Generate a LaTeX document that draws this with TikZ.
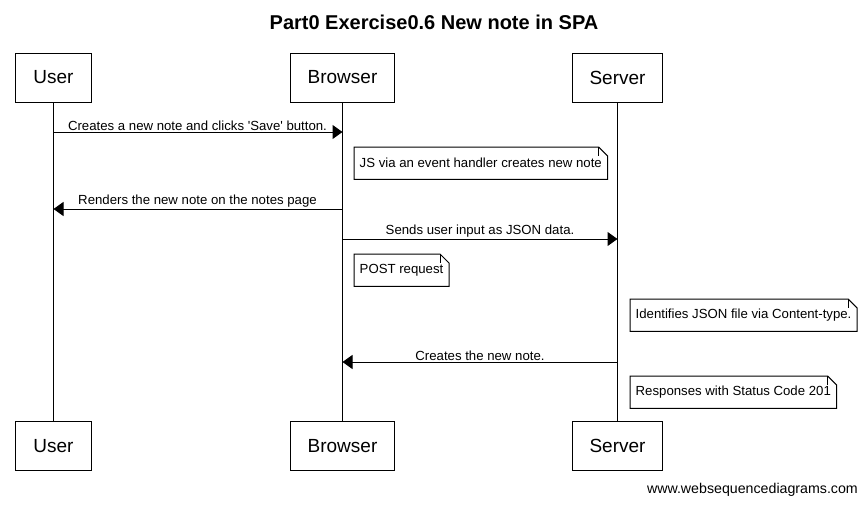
\documentclass[tikz,border=0pt]{standalone}
\usepackage{fontspec}
\setmainfont{Liberation Sans}
\usepackage{tikz}
\usetikzlibrary{arrows.meta,positioning,calc}

\tikzset{
    actor/.style={draw, line width=1pt, minimum height=49pt, inner xsep=17.5pt, font=\fontsize{19}{21}\selectfont},
    msg/.style={anchor=south, inner sep=1.5pt, font=\fontsize{13.2}{15}\selectfont},
    msgarrow/.style={line width=1pt, -{Triangle[length=10pt,width=14pt]}},
    note/.style={anchor=north west, minimum height=32pt, inner xsep=5.5pt, font=\fontsize{13.2}{15}\selectfont}
}
\newcommand{\drawnote}[1]{%
    \draw[line width=1pt] (#1.north west) -- ([xshift=-9pt]#1.north east) -- ([yshift=-9pt]#1.north east)
        -- (#1.south east) -- (#1.south west) -- cycle;
    \draw[line width=0.8pt] ([xshift=-9pt]#1.north east) -- ([xshift=-9pt,yshift=-9pt]#1.north east);
}

\begin{document}
\begin{tikzpicture}[x=1pt, y=-1pt]
    \useasboundingbox[fill=white] (0,0) rectangle (868,506);

    % Title
    \node[font=\bfseries\fontsize{20}{22}\selectfont] (title) at (434,22) {Part0 Exercise0.6 New note in SPA};

    % Actors (top and bottom)
    \node[actor] (usertop) at (53.5,77.5) {User};
    \node[actor] (browsertop) at (342.5,77.5) {Browser};
    \node[actor] (servertop) at (617.5,77.5) {Server};
    \node[actor] (userbot) at (53.5,446) {User};
    \node[actor] (browserbot) at (342.5,446) {Browser};
    \node[actor] (serverbot) at (617.5,446) {Server};

    % Lifelines
    \draw[line width=1pt] (usertop) -- (userbot);
    \draw[line width=1pt] (browsertop) -- (browserbot);
    \draw[line width=1pt] (servertop) -- (serverbot);

    % Messages
    \node[msg] (save) at (197.5,132) {Creates a new note and clicks \textquotesingle Save\textquotesingle\ button.};
    \draw[msgarrow] (usertop |- save.south) -- (browsertop |- save.south);

    \node[note] (handler) at (354,147) {JS via an event handler creates new note};
    \drawnote{handler}

    \node[msg] (render) at (197.5,209) {Renders the new note on the notes page};
    \draw[msgarrow] (browsertop |- render.south) -- (usertop |- render.south);

    \node[msg] (sendjson) at (480,239) {Sends user input as JSON data.};
    \draw[msgarrow] (browsertop |- sendjson.south) -- (servertop |- sendjson.south);

    \node[note] (post) at (354,254) {POST request};
    \drawnote{post}

    \node[note] (identify) at (630,299) {Identifies JSON file via Content-type.};
    \drawnote{identify}

    \node[msg] (created) at (480,362) {Creates the new note.};
    \draw[msgarrow] (servertop |- created.south) -- (browsertop |- created.south);

    \node[note] (status) at (630,376) {Responses with Status Code 201};
    \drawnote{status}

    % Footer
    \node[anchor=east, inner sep=0pt, font=\fontsize{14.2}{16}\selectfont] (wsd) at (858,490) {www.websequencediagrams.com};
\end{tikzpicture}
\end{document}
